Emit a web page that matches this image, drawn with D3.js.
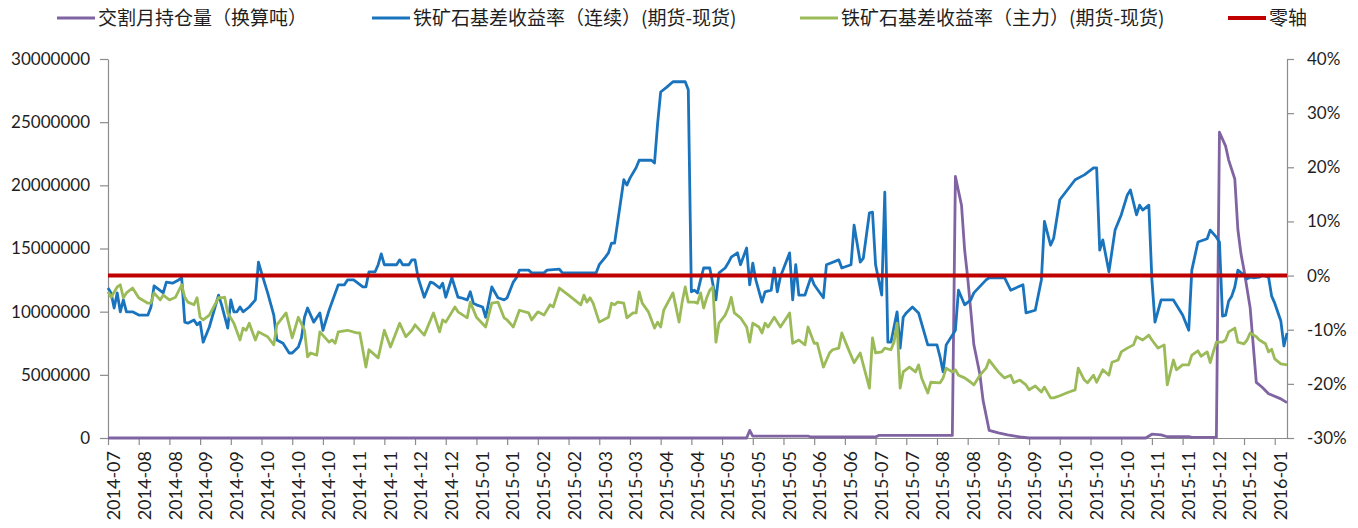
<!DOCTYPE html>
<html>
<head>
<meta charset="utf-8">
<script src="https://cdn.jsdelivr.net/npm/d3@7/dist/d3.min.js"></script>
<style>
  body { margin: 0; background: #fff; }
  .tick text { font-family: Lato, "Noto Sans", sans-serif; font-size: 17px; fill: #1e1e1e; }
  .xlab { font-family: Lato, "Noto Sans", sans-serif; font-size: 18px; fill: #1e1e1e; }
  .legend text { font-family: "Noto Sans CJK SC", sans-serif; font-size: 19px; fill: #1e1e1e; }
</style>
</head>
<body>
<div id="chart"></div>
<script>
"use strict";

// category labels, one every 10 trading days
var xLabels = ["2014-07", "2014-08", "2014-08", "2014-09", "2014-09", "2014-10", "2014-10", "2014-10",
  "2014-11", "2014-11", "2014-12", "2014-12", "2015-01", "2015-01", "2015-02", "2015-02", "2015-03",
  "2015-03", "2015-04", "2015-04", "2015-05", "2015-05", "2015-05", "2015-06", "2015-06", "2015-07",
  "2015-07", "2015-08", "2015-08", "2015-09", "2015-09", "2015-10", "2015-10", "2015-10", "2015-11",
  "2015-11", "2015-12", "2015-12", "2016-01"];
var labelStep = 10;
var lastDay = 384;

var leftTicks = [0, 5000000, 10000000, 15000000, 20000000, 25000000, 30000000];
var rightTicks = [-30, -20, -10, 0, 10, 20, 30, 40];

var legendNames = ["交割月持仓量（换算吨）", "铁矿石基差收益率（连续）(期货-现货)",
  "铁矿石基差收益率（主力）(期货-现货)", "零轴"];

// [trading day, tons]
var openInterest = [[0, 0], [208, 0], [209, 600000], [210, 150000], [228, 150000], [229, 80000],
  [250, 80000], [251, 200000], [275, 200000], [276, 20700000], [278, 18400000], [279, 14900000],
  [280, 12700000], [281, 10100000], [282, 7400000], [284, 5000000], [285, 3000000], [287, 600000],
  [290, 400000], [293, 240000], [297, 80000], [300, 0], [338, 0], [340, 300000], [343, 250000],
  [345, 100000], [352, 100000], [353, 50000], [361, 50000], [362, 24200000], [364, 23100000],
  [365, 22000000], [367, 20500000], [368, 16500000], [369, 14600000], [370, 13300000],
  [372, 10300000], [374, 4400000], [376, 4000000], [378, 3500000], [379, 3400000],
  [382, 3100000], [384, 2800000]];

// [trading day, %]
var basisContinuous = [[0,-2.3],[1,-3.2],[2,-6.0],[3,-3.2],[4,-6.7],[5,-4.5],[6,-6.7],[8,-6.7],[10,-7.3],
  [13,-7.3],[14,-5.8],[15,-1.9],[18,-3.2],[19,-1.2],[21,-1.4],[23,-0.8],[24,-0.4],[25,-8.6],[26,-8.8],
  [28,-8.2],[29,-9.1],[30,-8.6],[31,-12.3],[33,-9.5],[36,-3.6],[37,-5.4],[39,-9.7],[40,-4.5],[41,-6.7],
  [42,-6.7],[43,-5.8],[44,-6.7],[46,-5.8],[48,-4.5],[49,2.5],[50,0.5],[52,-3.2],[54,-7.3],[55,-11.9],
  [57,-12.5],[59,-14.3],[60,-14.3],[62,-13.2],[63,-11.5],[64,-7.7],[65,-6.0],[67,-8.6],[69,-6.9],
  [70,-10.1],[72,-6.4],[75,-1.7],[77,-1.7],[78,-0.8],[80,-0.8],[83,-2.1],[84,-2.1],[85,0.7],[87,0.7],
  [88,2.0],[89,4.0],[90,2.0],[94,2.0],[95,2.9],[96,2.0],[98,2.0],[99,2.9],[100,2.9],[101,-0.4],
  [103,-4.0],[105,-1.2],[106,-1.4],[108,-2.3],[109,-1.4],[110,-4.0],[112,-0.4],[114,-4.0],[115,-4.1],
  [117,-4.5],[118,-3.0],[119,-5.1],[120,-5.4],[122,-5.8],[123,-7.7],[125,-2.1],[127,-4.1],[129,-4.5],
  [130,-4.1],[132,-1.2],[133,-0.4],[134,1.0],[137,1.0],[138,0.5],[142,0.5],[143,1.0],[147,1.2],
  [148,0.5],[159,0.5],[160,2.0],[162,3.4],[163,4.2],[164,6.0],[165,6.0],[168,17.7],[169,16.7],
  [170,18.0],[172,19.9],[173,21.3],[177,21.3],[178,20.8],[179,28.0],[180,33.9],[182,34.8],[184,35.8],
  [188,35.8],[189,34.3],[190,-3.0],[191,-2.7],[192,-3.2],[193,-0.8],[194,1.4],[196,1.4],[198,-4.5],
  [199,0.5],[201,1.4],[202,2.3],[203,3.4],[205,4.2],[206,2.0],[208,5.1],[209,-1.7],[210,2.3],
  [211,-0.8],[213,-4.9],[214,-3.0],[216,-2.7],[217,1.4],[218,-3.0],[219,-0.2],[222,4.2],[223,-4.5],
  [224,2.0],[225,-3.6],[227,-3.6],[229,-0.2],[230,-1.7],[233,-4.1],[234,2.0],[238,2.9],[239,1.4],
  [242,2.0],[243,9.3],[245,2.5],[246,3.2],[248,11.6],[249,11.7],[250,2.0],[252,-3.6],[253,15.4],
  [254,-12.3],[255,-12.3],[257,-6.7],[258,-13.4],[259,-7.7],[260,-6.9],[262,-5.8],[264,-6.9],
  [267,-12.8],[270,-12.8],[271,-15.0],[272,-17.8],[273,-12.8],[276,-10.1],[277,-2.7],[279,-5.4],
  [281,-4.5],[282,-3.2],[286,-0.8],[287,-0.4],[292,-0.4],[294,-2.7],[298,-1.7],[299,-6.9],[302,-6.4],
  [304,-0.8],[305,10.0],[307,5.6],[308,6.9],[310,14.0],[315,17.7],[318,18.6],[321,19.9],[322,19.9],
  [323,4.7],[324,6.6],[326,0.7],[328,8.4],[330,11.2],[332,14.9],[333,15.8],[335,11.2],[336,13.0],
  [337,12.1],[339,13.0],[340,-0.8],[341,-8.6],[343,-4.5],[347,-4.5],[350,-7.3],[352,-10.1],[353,1.0],
  [355,6.2],[358,6.8],[359,8.4],[361,7.1],[362,6.2],[363,-7.5],[364,-7.3],[365,-4.7],[366,-3.8],
  [367,-2.1],[368,1.0],[370,0.1],[371,-0.6],[372,-0.3],[373,-0.4],[375,-0.3],[376,0.1],[378,-0.3],
  [379,-3.8],[380,-5.1],[382,-8.4],[383,-13.0],[384,-10.6]];

var basisMain = [[0,-3.0],[1,-4.0],[3,-2.1],[4,-1.7],[5,-4.1],[6,-3.2],[8,-2.3],[10,-4.1],[13,-5.1],
  [14,-5.1],[15,-3.2],[17,-4.5],[18,-3.6],[20,-4.5],[22,-4.0],[24,-1.7],[25,-4.0],[26,-4.9],[28,-5.4],
  [29,-4.1],[30,-7.7],[31,-8.2],[33,-7.3],[36,-4.1],[37,-4.1],[38,-4.0],[39,-6.9],[41,-8.8],[43,-11.9],
  [44,-9.7],[45,-10.1],[46,-8.8],[48,-11.9],[49,-10.4],[52,-11.3],[54,-12.8],[55,-9.1],[58,-6.9],
  [60,-11.5],[62,-7.7],[64,-10.1],[65,-15.0],[66,-14.3],[68,-14.7],[69,-10.4],[72,-12.3],[73,-11.9],
  [74,-12.5],[75,-10.4],[78,-10.1],[81,-10.6],[82,-10.6],[84,-16.9],[85,-13.7],[88,-15.2],[90,-10.1],
  [92,-13.2],[95,-8.8],[97,-11.3],[99,-10.1],[100,-9.1],[103,-11.0],[106,-6.9],[108,-10.4],[109,-8.2],
  [110,-8.6],[113,-5.8],[114,-6.7],[117,-7.8],[118,-4.9],[120,-7.7],[123,-9.5],[125,-5.1],[127,-4.9],
  [129,-7.8],[130,-8.2],[132,-9.5],[134,-6.4],[137,-6.9],[138,-8.2],[140,-6.7],[142,-7.3],[144,-5.4],
  [145,-5.8],[147,-2.3],[150,-3.6],[154,-5.4],[155,-3.6],[156,-4.9],[157,-4.1],[158,-5.1],[160,-8.6],
  [163,-7.7],[164,-5.1],[165,-5.4],[166,-4.9],[168,-5.1],[169,-7.8],[171,-6.9],[172,-6.9],[173,-3.0],
  [174,-5.1],[176,-6.7],[178,-9.7],[179,-8.6],[180,-9.5],[181,-6.4],[184,-3.2],[186,-8.6],[187,-4.9],
  [188,-2.1],[189,-4.9],[191,-4.9],[192,-5.1],[193,-3.2],[194,-6.0],[195,-4.1],[196,-2.7],[197,-2.1],
  [198,-12.3],[199,-8.8],[201,-7.3],[202,-6.0],[203,-4.0],[204,-6.9],[206,-7.8],[208,-9.5],[209,-12.3],
  [210,-8.8],[212,-9.5],[213,-10.6],[214,-8.8],[215,-9.5],[217,-7.7],[219,-9.5],[221,-7.8],[222,-6.9],
  [223,-12.5],[225,-11.9],[227,-12.8],[228,-9.5],[230,-12.5],[231,-12.5],[233,-16.9],[235,-14.3],
  [236,-13.7],[238,-13.4],[239,-10.6],[241,-13.4],[243,-16.1],[245,-14.3],[246,-16.5],[248,-20.8],
  [249,-11.5],[250,-14.3],[252,-14.1],[253,-13.4],[255,-13.7],[256,-12.3],[257,-8.8],[258,-20.8],
  [259,-17.8],[261,-16.9],[263,-17.8],[264,-16.5],[265,-18.9],[267,-21.7],[268,-19.7],[271,-19.8],
  [272,-18.9],[273,-17.1],[275,-17.8],[276,-17.4],[277,-18.4],[279,-18.9],[281,-19.7],[282,-20.2],
  [284,-18.4],[286,-17.1],[287,-15.6],[289,-17.1],[290,-17.8],[292,-18.9],[294,-18.4],[295,-19.8],
  [297,-19.3],[299,-20.2],[300,-21.1],[302,-20.4],[304,-21.5],[305,-20.6],[307,-22.6],[308,-22.6],
  [310,-22.2],[313,-21.5],[315,-21.1],[316,-17.1],[318,-19.3],[319,-19.8],[321,-18.4],[322,-19.7],
  [324,-17.4],[326,-18.4],[327,-16.0],[329,-15.6],[330,-14.1],[332,-13.4],[334,-12.8],[335,-11.3],
  [337,-11.9],[339,-11.0],[340,-11.9],[342,-13.4],[344,-12.8],[345,-20.2],[347,-15.6],[348,-17.4],
  [350,-16.5],[352,-16.5],[353,-14.7],[355,-13.9],[356,-14.9],[358,-14.1],[359,-16.1],[360,-14.1],
  [361,-12.3],[363,-12.3],[364,-11.9],[365,-10.4],[367,-9.7],[368,-12.3],[370,-12.6],[371,-11.9],
  [372,-10.6],[374,-11.3],[375,-11.9],[377,-12.6],[378,-14.1],[379,-13.6],[380,-15.4],[382,-16.3],
  [384,-16.5]];

var zeroAxis = [[0, 0], [lastDay, 0]];

var colors = ["#8064a2", "#1a74bd", "#9bbb59", "#c00000"];

var width = 1358, height = 528;
var plotLeft = 108, plotRight = 1287, plotTop = 59, plotBottom = 438;

var svg = d3.select("#chart").append("svg")
  .attr("width", width)
  .attr("height", height);

var x = d3.scaleLinear().domain([0, lastDay]).range([plotLeft, plotRight]);
var yLeft = d3.scaleLinear().domain([0, 30000000]).range([plotBottom, plotTop]);
var yRight = d3.scaleLinear().domain([-30, 40]).range([plotBottom, plotTop]);

// axes
var axisColor = "#8c8c8c";

var gLeft = svg.append("g")
  .attr("transform", "translate(" + plotLeft + ",0)")
  .call(d3.axisLeft(yLeft).tickValues(leftTicks).tickSize(8).tickSizeOuter(0).tickPadding(10)
    .tickFormat(d3.format("d")));

var gRight = svg.append("g")
  .attr("transform", "translate(" + plotRight + ",0)")
  .call(d3.axisRight(yRight).tickValues(rightTicks).tickSize(7).tickSizeOuter(0).tickPadding(13)
    .tickFormat(function(d) { return d + "%"; }));

var tickDays = xLabels.map(function(d, i) { return i * labelStep; });
var gBottom = svg.append("g")
  .attr("transform", "translate(0," + plotBottom + ")")
  .call(d3.axisBottom(x).tickValues(tickDays).tickSize(7).tickSizeOuter(0).tickFormat(""));

[gLeft, gRight, gBottom].forEach(function(g) {
  g.select(".domain").attr("stroke", axisColor).attr("stroke-width", 1.2);
  g.selectAll(".tick line").attr("stroke", axisColor).attr("stroke-width", 1.2);
  g.selectAll(".tick text").attr("fill", "#1e1e1e");
});

svg.append("g").selectAll("text")
  .data(xLabels)
  .enter()
  .append("text")
  .attr("class", "xlab")
  .attr("transform", function(d, i) {
    return "translate(" + (x(tickDays[i]) + 6) + "," + (plotBottom + 13) + ") rotate(-90)";
  })
  .attr("text-anchor", "end")
  .attr("dy", "0.35em")
  .text(function(d) { return d; });

// series
var lineLeft = d3.line()
  .x(function(d) { return x(d[0]); })
  .y(function(d) { return yLeft(d[1]); });
var lineRight = d3.line()
  .x(function(d) { return x(d[0]); })
  .y(function(d) { return yRight(d[1]); });

svg.append("path")
  .datum(openInterest)
  .attr("d", lineLeft)
  .attr("fill", "none")
  .attr("stroke", colors[0])
  .attr("stroke-width", 2.8)
  .attr("stroke-linejoin", "round");

[basisContinuous, basisMain].forEach(function(series, i) {
  svg.append("path")
    .datum(series)
    .attr("d", lineRight)
    .attr("fill", "none")
    .attr("stroke", colors[i + 1])
    .attr("stroke-width", 2.8)
    .attr("stroke-linejoin", "round");
});

svg.append("path")
  .datum(zeroAxis)
  .attr("d", lineRight)
  .attr("fill", "none")
  .attr("stroke", colors[3])
  .attr("stroke-width", 4);

// legend
var legendX = [57, 372, 800, 1228];
var legend = svg.append("g").attr("class", "legend");
legendNames.forEach(function(name, i) {
  legend.append("line")
    .attr("x1", legendX[i])
    .attr("x2", legendX[i] + 38)
    .attr("y1", 18)
    .attr("y2", 18)
    .attr("stroke", colors[i])
    .attr("stroke-width", i == 3 ? 4 : 3);
  legend.append("text")
    .attr("x", legendX[i] + 41)
    .attr("y", 18)
    .attr("dy", "0.35em")
    .text(name);
});
</script>
</body>
</html>
